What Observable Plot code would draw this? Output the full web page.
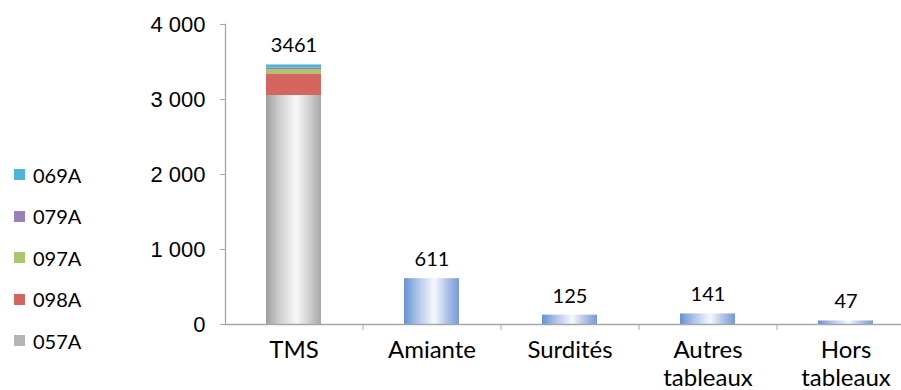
<!DOCTYPE html>
<html><head><meta charset="utf-8">
<script src="https://cdn.jsdelivr.net/npm/d3@7"></script>
<script src="https://cdn.jsdelivr.net/npm/@observablehq/plot@0.6"></script>
<style>
body{margin:0;background:#fff;}
#wrap{position:relative;width:901px;height:390px;overflow:hidden;}
#legend{position:absolute;left:14px;top:0;font-family:Lato,sans-serif;font-size:20px;color:#000;}
.item{position:absolute;left:0;height:24px;display:flex;align-items:center;white-space:nowrap}
.sw{width:11px;height:11px;margin-right:8px;flex:none}
</style></head>
<body><div id="wrap"><div id="chart"></div><div id="legend"></div></div>
<script>
const categories = ["TMS","Amiante","Surdités","Autres tableaux","Hors tableaux"];
const categoryLabels = ["TMS","Amiante","Surdités","Autres\ntableaux","Hors\ntableaux"];
const tmsSeries = ["057A","098A","097A","079A","069A"];
const tmsValues = [3053, 288, 59, 22, 39];
const seriesFills = ["url(#gradGray)","#d5665f","#a9c56e","#9a7fbd","#4db6d4"];
const legendColors = ["#b4b4b8","#d5665f","#a9c56e","#9a7fbd","#4db6d4"];
const otherCategories = ["Amiante","Surdités","Autres tableaux","Hors tableaux"];
const otherValues = [611,125,141,47];
const totals = [3461,611,125,141,47];
const yTicks = [0,1000,2000,3000,4000];

const fmt = d3.formatLocale({decimal:",", thousands:"\u00a0", grouping:[3], currency:["",""]}).format(",d");
const tmsRows = tmsSeries.map((s,i)=>({cat:"TMS", series:s, value:tmsValues[i], fill:seriesFills[i]}));
const otherRows = otherCategories.map((c,i)=>({cat:c, value:otherValues[i]}));
const xRange = [225, 915];
const step = (xRange[1]-xRange[0])/categories.length;
const axisGray = "#a6a6a6";

const plot = Plot.plot({
  width:901, height:390, marginTop:24, marginBottom:66, marginLeft:225, marginRight:0,
  style:{fontFamily:"Lato, sans-serif", background:"#fff", color:"#000"},
  x:{domain:categories, range:xRange, paddingInner:0.6, paddingOuter:0.3, axis:null},
  y:{domain:[0,4000], axis:null},
  color:{type:"identity"},
  marks:[
    Plot.barY(tmsRows, Plot.stackY({x:"cat", y:"value", fill:"fill"})),
    Plot.barY(otherRows, {x:"cat", y:"value", fill:"url(#gradBlue)"}),
    Plot.ruleY([0], {stroke:axisGray, strokeWidth:1.3}),
    Plot.frame({anchor:"left", stroke:axisGray, strokeWidth:1.3}),
    Plot.axisX({ticks:categories.slice(1), tickFormat:()=>"", tickSize:6, dx:-step/2, stroke:axisGray, label:null}),
    Plot.axisY({ticks:yTicks, tickFormat:fmt, tickSize:5, tickPadding:15, fontSize:22, fontFamily:"Liberation Sans, Arial, sans-serif", stroke:axisGray, fill:"#000", label:null}),
    Plot.text(categories, {x:d=>d, frameAnchor:"bottom", text:(d,i)=>categoryLabels[i], lineAnchor:"top", dy:14, fontSize:24, lineHeight:1.15, fill:"#000"}),
    Plot.text(categories, {x:d=>d, y:(d,i)=>totals[i], text:(d,i)=>String(totals[i]), dy:-19, fontSize:20, lineAnchor:"middle", fill:"#000"})
  ]
});

const svg = d3.select(plot);
const defs = svg.insert("defs", ":first-child");
function grad(id, stops){
  const g = defs.append("linearGradient").attr("id", id).attr("x1","0").attr("x2","1").attr("y1","0").attr("y2","0");
  stops.forEach(([o,c])=>g.append("stop").attr("offset",o).attr("stop-color",c));
}
grad("gradGray", [["0%","#9e9e9e"],["25%","#cfcfcf"],["55%","#f8f8f8"],["80%","#cdcdcd"],["100%","#a6a6a6"]]);
grad("gradBlue", [["0%","#6691d2"],["25%","#aec4e9"],["55%","#f6f8fd"],["80%","#a9bfe6"],["100%","#7799d6"]]);
document.getElementById("chart").appendChild(plot);

const legend = document.getElementById("legend");
const legendOrder = tmsSeries.map((s,i)=>i).reverse();
legendOrder.forEach((idx, k)=>{
  const it = document.createElement("div");
  it.className = "item";
  it.style.top = (162.5 + k*41.6) + "px";
  const sw = document.createElement("span");
  sw.className = "sw"; sw.style.background = legendColors[idx];
  const tx = document.createElement("span");
  tx.textContent = tmsSeries[idx];
  it.appendChild(sw); it.appendChild(tx);
  legend.appendChild(it);
});
</script>
</body></html>
